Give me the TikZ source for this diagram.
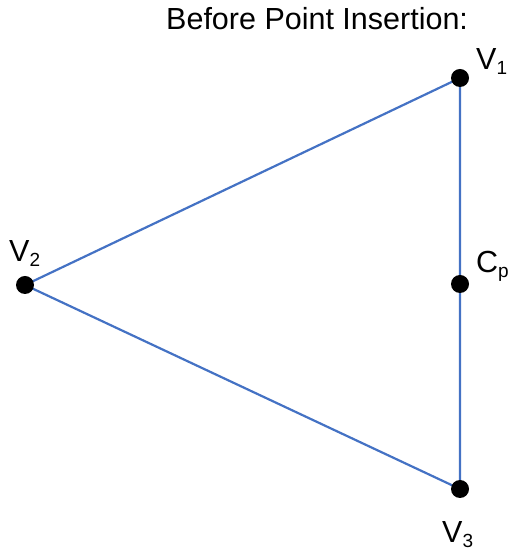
\documentclass[tikz,border=0pt]{standalone}
\usepackage{fontspec}
\setmainfont{Liberation Sans}
\definecolor{edgeblue}{HTML}{4472C4}
\newcommand{\lbsub}[1]{\raisebox{-0.16em}{\fontsize{19bp}{19bp}\selectfont #1}}
\begin{document}
\begin{tikzpicture}[x=1bp,y=1bp,
  dot/.style={circle,fill=black,inner sep=0pt,minimum size=18bp},
  edge/.style={draw=edgeblue,line width=2.2bp},
  lbl/.style={inner sep=0pt,anchor=base west,font=\fontsize{30.5bp}{34bp}\selectfont}]
\useasboundingbox (0,0) rectangle (511,554);
\coordinate (p1) at (460,476);
\coordinate (p2) at (25,269);
\coordinate (p3) at (460,65);
\coordinate (pc) at (460,270);
\draw[edge] (p1) -- (p2) -- (p3) -- cycle;
\node[dot] (v1) at (p1) {};
\node[dot] (v2) at (p2) {};
\node[dot] (v3) at (p3) {};
\node[dot] (cp) at (pc) {};
\node[lbl] (title) at (166,524) {Before Point Insertion:};
\node[lbl] (l1) at (476,484) {V\lbsub{1}};
\node[lbl] (l2) at (9,292) {V\lbsub{2}};
\node[lbl] (lc) at (476,281) {C\lbsub{p}};
\node[lbl] (l3) at (442,11) {V\lbsub{3}};
\end{tikzpicture}
\end{document}
